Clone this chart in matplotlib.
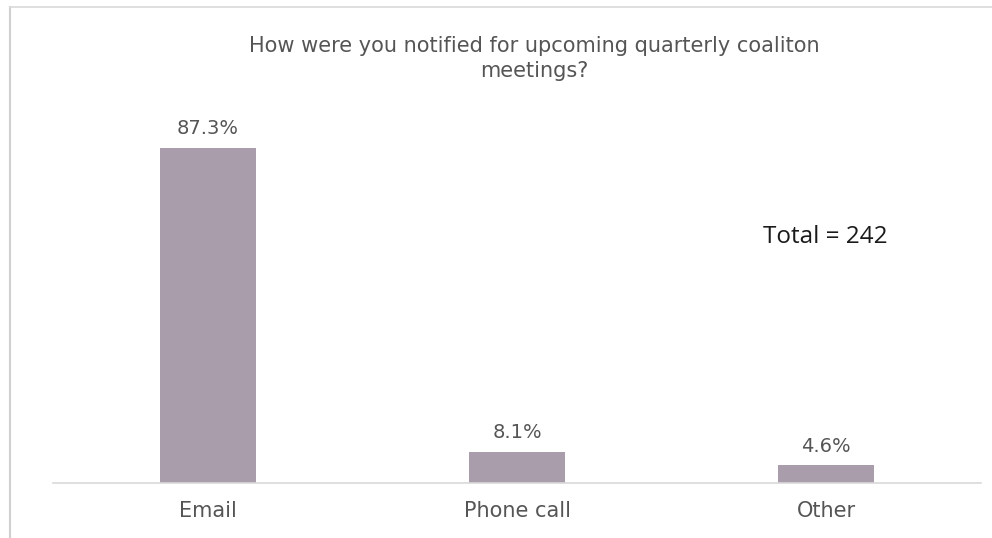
import matplotlib.pyplot as plt
from matplotlib.lines import Line2D

categories = ['Email', 'Phone call', 'Other']
percents = [87.3, 8.1, 4.6]
value_labels = ['87.3%', '8.1%', '4.6%']
title = 'How were you notified for upcoming quarterly coaliton\nmeetings?'
total_note = 'Total = 242'

W, H = 992, 538
fig = plt.figure(figsize=(W / 100, H / 100), dpi=100)

# axes placed in pixel terms: baseline at y=483, x from 53 to 981
ax = fig.add_axes([53 / W, (H - 483) / H, 928 / W, 384 / H])

bar_color = '#a99dac'
text_gray = '#555555'
ax.bar(range(len(categories)), percents, width=0.31, color=bar_color)

for i, (v, lab) in enumerate(zip(percents, value_labels)):
    ax.annotate(lab, (i, v), xytext=(0, 7), textcoords='offset points',
                ha='center', va='bottom', fontsize=14, color=text_gray,
                family='DejaVu Sans')

ax.set_xlim(-0.5, 2.5)
ax.set_ylim(0, 100)
ax.set_xticks(range(len(categories)))
ax.set_xticklabels(categories, fontsize=15, color=text_gray, family='DejaVu Sans')
ax.tick_params(axis='x', length=0, pad=13)
ax.set_yticks([])
for side in ['top', 'right', 'left']:
    ax.spines[side].set_visible(False)
ax.spines['bottom'].set_color('#d9d9d9')
ax.spines['bottom'].set_linewidth(1.2)

fig.text(534 / W, 1 - 58.5 / H, title, ha='center', va='center', fontsize=15,
         color=text_gray, family='DejaVu Sans', linespacing=1.3)
fig.text(825 / W, 1 - 237 / H, total_note, ha='center', va='center',
         fontsize=17.5, color='#1a1a1a', family='Open Sans')

# outer frame (left and top edges)
fig.add_artist(Line2D([10 / W, 10 / W], [0, 1 - 7 / H], color='#d0d0d0', lw=1.5,
                      transform=fig.transFigure))
fig.add_artist(Line2D([10 / W, 1], [1 - 7 / H, 1 - 7 / H], color='#d9d9d9', lw=1.2,
                      transform=fig.transFigure))

fig.savefig('out.png', dpi=100)
